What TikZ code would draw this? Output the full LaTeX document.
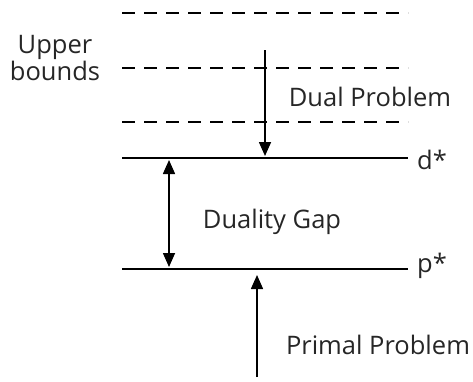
\documentclass[tikz,border=0pt]{standalone}
\usepackage{fontspec}
\setmainfont{Open Sans}
\usepackage{tikz}
\usetikzlibrary{arrows.meta}

\tikzset{
  bound/.style={line width=1.6pt, dash pattern=on 13pt off 9pt},
  level/.style={line width=2pt},
  move/.style={line width=1.6pt, -{Triangle[width=12pt,length=14pt]}},
  gap/.style={line width=1.6pt, {Triangle[width=12pt,length=14pt]}-{Triangle[width=12pt,length=14pt]}},
  lbl/.style={inner sep=0pt, text=black!85}
}

\begin{document}
\begin{tikzpicture}[x=1pt,y=-1pt,font=\fontsize{25.5}{27}\selectfont]
\useasboundingbox (0,0) rectangle (473,381);
% upper bounds (dashed)
\coordinate (b1l) at (122,13);  \coordinate (b1r) at (408,13);
\coordinate (b2l) at (122,68);  \coordinate (b2r) at (408,68);
\coordinate (b3l) at (122,122); \coordinate (b3r) at (408,122);
\draw[bound] (b1l) -- (b1r);
\draw[bound] (b2l) -- (b2r);
\draw[bound] (b3l) -- (b3r);
% optimal values
\coordinate (dl) at (122,158); \coordinate (dr) at (408,158);
\coordinate (pl) at (122,269); \coordinate (pr) at (408,269);
\draw[level] (dl) -- (dr);
\draw[level] (pl) -- (pr);
\node[lbl, anchor=west] (dstar) at (417,160) {d*};
\node[lbl, anchor=west] (pstar) at (417,266) {p*};
% labels
\node[lbl, align=center] (ub) at (55,58) {Upper\\bounds};
\node[lbl] (dual) at (370,97) {Dual Problem};
\node[lbl] (gaplbl) at (272,222) {Duality Gap};
\node[lbl] (primal) at (378,345) {Primal Problem};
% arrows
\coordinate (dtop) at (265,50);  \coordinate (dbot) at (265,156);
\coordinate (gtop) at (169,160); \coordinate (gbot) at (169,267);
\coordinate (pbot) at (257,377); \coordinate (ptop) at (257,275);
\draw[move] (dtop) -- (dbot);
\draw[gap] (gtop) -- (gbot);
\draw[move] (pbot) -- (ptop);
\end{tikzpicture}
\end{document}
